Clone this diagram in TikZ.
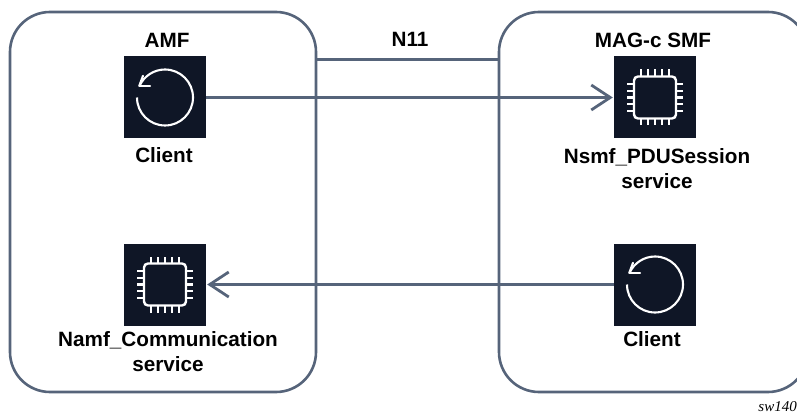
\documentclass[tikz,border=0pt]{standalone}
\usepackage{fontspec}
\setmainfont{Liberation Sans}
\newfontfamily\serifit{Liberation Serif}
\usetikzlibrary{arrows.meta}
\definecolor{lineblue}{HTML}{56647A}
\definecolor{iconbg}{HTML}{0F1626}
\tikzset{
  x=1pt,y=-1pt,
  panel/.style={draw=lineblue,line width=2.6pt,rounded corners=40pt},
  conn/.style={draw=lineblue,line width=2.6pt},
  arrowconn/.style={conn,-{Straight Barb[length=19pt,width=25pt,line width=2.8pt]},shorten >=1pt},
  iconbox/.style={fill=iconbg,draw=none,minimum width=82pt,minimum height=82pt,inner sep=0pt},
  lbl/.style={font=\bfseries\fontsize{20.7}{25}\selectfont,align=center,text=black,inner sep=0pt},
  glyph/.style={draw=white,line width=2.1pt},
  chipic/.pic={
    \draw[glyph,rounded corners=4pt,line width=2.4pt] (-21,-21) rectangle (21,21);
    \foreach \p in {-13.6,-6.8,0,6.8,13.6}{
      \draw[glyph] (\p,-21) -- (\p,-28);
      \draw[glyph] (\p,21) -- (\p,28);
      \draw[glyph] (-21,\p) -- (-28,\p);
      \draw[glyph] (21,\p) -- (28,\p);
    }
  },
  clientic/.pic={
    \draw[glyph] (-28,0) arc[start angle=180,end angle=-155,radius=28];
    \draw[glyph,line cap=round] (-25.7,-11.7) -- (-22,-21.7);
    \draw[glyph,line cap=round] (-25.7,-11.7) -- (-15,-11.7);
  }
}
\begin{document}
\begin{tikzpicture}
\useasboundingbox (0,0) rectangle (797,414);
\draw[panel] (10,12) rectangle (316,392);
\coordinate (amfedge) at (316,59.5);
\coordinate (smfedge) at (499,59.5);
\begin{scope}
\clip (0,0) rectangle (797,414);
\draw[panel] (499,12) rectangle (808,392);
\end{scope}
\draw[conn] (amfedge) -- (smfedge);
\node[iconbox] (cl1) at (165,97.5) {};
\node[iconbox] (ch1) at (655,97.5) {};
\node[iconbox] (ch2) at (165,284.5) {};
\node[iconbox] (cl2) at (655,284.5) {};
\pic at (cl1) {clientic};
\pic at (ch1) {chipic};
\pic at (ch2) {chipic};
\pic at (cl2) {clientic};
\draw[arrowconn] (cl1) -- (ch1);
\draw[arrowconn] (cl2) -- (ch2);
\node[lbl] (n11) at (410,39) {N11};
\node[lbl] (amf) at (167,40) {AMF};
\node[lbl] (smf) at (653,40) {MAG-c SMF};
\node[lbl] (t1) at (164,155) {Client};
\node[lbl] (t2) at (657,169) {Nsmf\_PDUSession\\service};
\node[lbl] (t3) at (168,352) {Namf\_Communication\\service};
\node[lbl] (t4) at (652,339) {Client};
\node[font=\serifit\itshape\fontsize{15}{17}\selectfont,inner sep=0pt,anchor=east] (sw) at (797,407) {sw140};
\end{tikzpicture}
\end{document}
